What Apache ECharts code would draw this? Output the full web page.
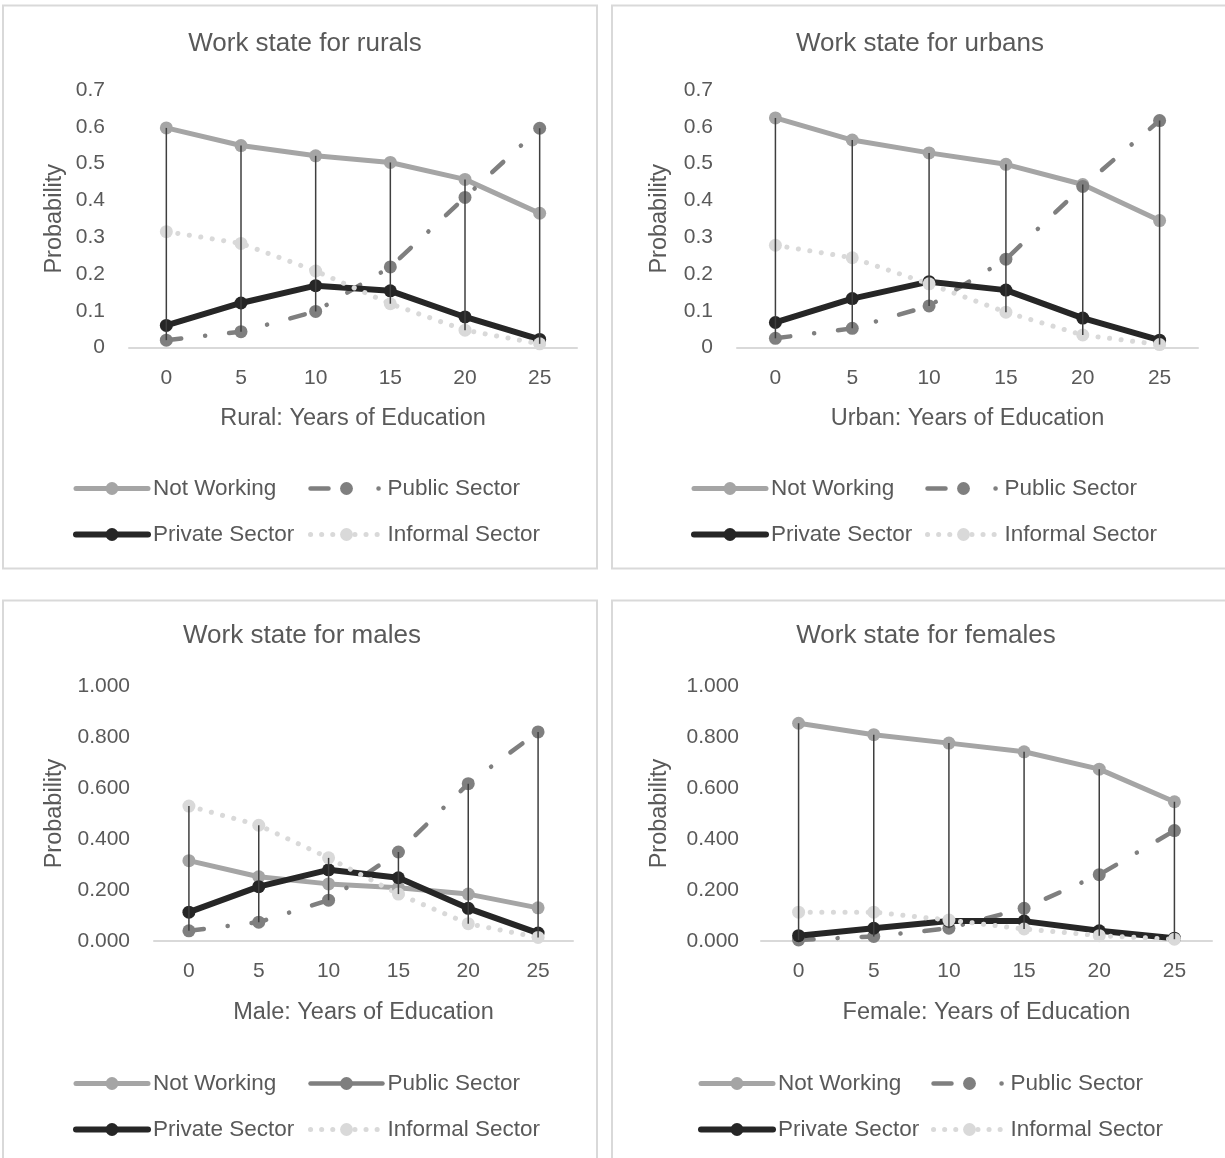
<!DOCTYPE html>
<html>
<head>
<meta charset="utf-8">
<script src="https://cdn.jsdelivr.net/npm/echarts@6/dist/echarts.min.js"></script>
<style>
  html, body { margin: 0; padding: 0; background: #ffffff; }
  #chart { width: 1225px; height: 1158px; }
</style>
</head>
<body>
<div id="chart"></div>
<script>
// Years of education on the category axis
const years = ['0', '5', '10', '15', '20', '25'];
const seriesNames = ['Not Working', 'Public Sector', 'Private Sector', 'Informal Sector'];

// Rural
const ruralNotWorking = [0.597, 0.549, 0.521, 0.503, 0.457, 0.365];
const ruralPublic     = [0.020, 0.043, 0.098, 0.219, 0.408, 0.596];
const ruralPrivate    = [0.060, 0.121, 0.168, 0.154, 0.083, 0.022];
const ruralInformal   = [0.315, 0.283, 0.208, 0.119, 0.047, 0.010];

// Urban
const urbanNotWorking = [0.624, 0.564, 0.529, 0.498, 0.443, 0.345];
const urbanPublic     = [0.025, 0.052, 0.113, 0.240, 0.438, 0.617];
const urbanPrivate    = [0.068, 0.133, 0.179, 0.156, 0.080, 0.020];
const urbanInformal   = [0.278, 0.244, 0.173, 0.096, 0.034, 0.008];

// Male
const maleNotWorking = [0.315, 0.252, 0.224, 0.209, 0.184, 0.130];
const malePublic     = [0.040, 0.074, 0.160, 0.349, 0.617, 0.820];
const malePrivate    = [0.113, 0.213, 0.279, 0.248, 0.128, 0.031];
const maleInformal   = [0.529, 0.454, 0.326, 0.184, 0.068, 0.014];

// Female
const femaleNotWorking = [0.854, 0.809, 0.776, 0.742, 0.674, 0.546];
const femalePublic     = [0.004, 0.018, 0.050, 0.128, 0.260, 0.433];
const femalePrivate    = [0.021, 0.050, 0.078, 0.078, 0.040, 0.011];
const femaleInformal   = [0.113, 0.113, 0.082, 0.047, 0.021, 0.007];

const panelTitles = ['Work state for rurals', 'Work state for urbans', 'Work state for males', 'Work state for females'];
const xAxisTitles = ['Rural: Years of Education', 'Urban: Years of Education', 'Male: Years of Education', 'Female: Years of Education'];
const yAxisTitle = 'Probability';

const FONT = "'Liberation Sans', Arial, sans-serif";
const TEXT = '#595959';

const lineStyles = {
  'Not Working':     { color: '#a5a5a5', width: 5,   type: 'solid' },
  'Public Sector':   { color: '#7f7f7f', width: 4.5, type: [15, 24, 0.1, 24] },
  'Private Sector':  { color: '#262626', width: 6,   type: 'solid' },
  'Informal Sector': { color: '#d9d9d9', width: 5,   type: [0.1, 11.5] }
};

// Panel layout: frame, plot area, title anchor, legend columns/rows
const panels = [
  { values: [ruralNotWorking, ruralPublic, ruralPrivate, ruralInformal],
    frame: [3, 5.5, 594, 563], grid: { left: 129, top: 90, width: 448, height: 257.5 },
    titleX: 305, titleY: 43.5, yMax: 0.7, yStep: 0.1, digits: 1, labelMargin: 24, yNameGap: 62, xNameGap: 59,
    legendX: [73, 308], legendY: 487, publicIcon: 'dash' },
  { values: [urbanNotWorking, urbanPublic, urbanPrivate, urbanInformal],
    frame: [612, 5.5, 640, 563], grid: { left: 737, top: 90, width: 461, height: 257.5 },
    titleX: 920, titleY: 43.5, yMax: 0.7, yStep: 0.1, digits: 1, labelMargin: 24, yNameGap: 65, xNameGap: 59,
    legendX: [691, 925], legendY: 487, publicIcon: 'dash' },
  { values: [maleNotWorking, malePublic, malePrivate, maleInformal],
    frame: [3, 600.5, 594, 600], grid: { left: 154, top: 686, width: 419, height: 255 },
    titleX: 302, titleY: 636, yMax: 1, yStep: 0.2, digits: 3, labelMargin: 24, yNameGap: 87, xNameGap: 60,
    legendX: [73, 308], legendY: 1082, publicIcon: 'solid' },
  { values: [femaleNotWorking, femalePublic, femalePrivate, femaleInformal],
    frame: [612, 600.5, 640, 600], grid: { left: 761, top: 686, width: 451, height: 255 },
    titleX: 926, titleY: 636, yMax: 1, yStep: 0.2, digits: 3, labelMargin: 22, yNameGap: 89, xNameGap: 60,
    legendX: [698, 931], legendY: 1082, publicIcon: 'dash' }
];

const grids = [], xAxes = [], yAxes = [], series = [], legends = [], graphics = [];

panels.forEach((p, i) => {
  graphics.push({
    type: 'rect', silent: true, z: -10,
    shape: { x: p.frame[0], y: p.frame[1], width: p.frame[2], height: p.frame[3] },
    style: { fill: null, stroke: '#d9d9d9', lineWidth: 2 }
  });
  graphics.push({
    type: 'text', silent: true, x: p.titleX, y: p.titleY,
    style: { text: panelTitles[i], fontSize: 26, fontFamily: FONT, fill: TEXT, align: 'center', verticalAlign: 'middle' }
  });

  grids.push(Object.assign({ containLabel: false }, p.grid));

  xAxes.push({
    type: 'category', gridIndex: i, data: years, boundaryGap: true,
    axisLine: { show: true, lineStyle: { color: '#d9d9d9', width: 2 } },
    axisTick: { show: false }, splitLine: { show: false },
    axisLabel: { fontSize: 21, color: TEXT, fontFamily: FONT, margin: 20 },
    name: xAxisTitles[i], nameLocation: 'middle', nameGap: p.xNameGap,
    nameTextStyle: { fontSize: 23.5, color: TEXT, fontFamily: FONT }
  });

  yAxes.push({
    type: 'value', gridIndex: i, min: 0, max: p.yMax, interval: p.yStep,
    axisLine: { show: false }, axisTick: { show: false }, splitLine: { show: false },
    axisLabel: {
      fontSize: 21, color: TEXT, fontFamily: FONT, margin: p.labelMargin,
      formatter: v => p.digits === 1 ? String(+v.toFixed(1)) : v.toFixed(3)
    },
    name: yAxisTitle, nameLocation: 'middle', nameGap: p.yNameGap,
    nameTextStyle: { fontSize: 23.5, color: TEXT, fontFamily: FONT }
  });

  seriesNames.forEach((name, k) => {
    const s = lineStyles[name];
    series.push({
      name, type: 'line', xAxisIndex: i, yAxisIndex: i,
      data: p.values[k],
      symbol: 'circle', symbolSize: 13, showSymbol: true,
      lineStyle: { color: s.color, width: s.width, type: s.type, cap: 'round', join: 'round' },
      itemStyle: { color: s.color },
      emphasis: { disabled: true }, z: 2
    });
  });

  // High-low lines spanning the four probabilities at each year
  const spans = years.map((_, k) => {
    const vals = p.values.map(arr => arr[k]);
    return [k, Math.min(...vals), Math.max(...vals)];
  });
  series.push({
    type: 'custom', xAxisIndex: i, yAxisIndex: i, silent: true, z: 3,
    data: spans,
    encode: { x: 0, y: [1, 2] },
    renderItem: (params, api) => {
      const lo = api.coord([api.value(0), api.value(1)]);
      const hi = api.coord([api.value(0), api.value(2)]);
      return { type: 'line', shape: { x1: lo[0], y1: lo[1], x2: hi[0], y2: hi[1] },
               style: { stroke: '#3f3f3f', lineWidth: 1.5 } };
    }
  });

  // Legend icons carry each series' own stroke width
  const icon = (name, type) => ({
    name,
    lineStyle: { width: lineStyles[name].width, type: type || lineStyles[name].type, cap: 'round' }
  });
  const legendBase = {
    orient: 'vertical', top: p.legendY - 10, padding: 0,
    itemWidth: 72, itemHeight: 16, itemGap: 23,
    selectedMode: false,
    textStyle: { fontSize: 22.5, color: TEXT, fontFamily: FONT }
  };
  legends.push(Object.assign({}, legendBase, {
    left: p.legendX[0],
    data: [icon('Not Working'), icon('Private Sector')]
  }));
  legends.push(Object.assign({}, legendBase, {
    left: p.legendX[1],
    data: [
      icon('Public Sector', p.publicIcon === 'solid' ? 'solid' : [18, 50, 0.1, 30]),
      icon('Informal Sector', [0.1, 11])
    ]
  }));
});

const chart = echarts.init(document.getElementById('chart'), null, { renderer: 'canvas' });
chart.setOption({
  animation: false,
  backgroundColor: '#ffffff',
  graphic: graphics,
  grid: grids,
  xAxis: xAxes,
  yAxis: yAxes,
  legend: legends,
  series: series
});
</script>
</body>
</html>
